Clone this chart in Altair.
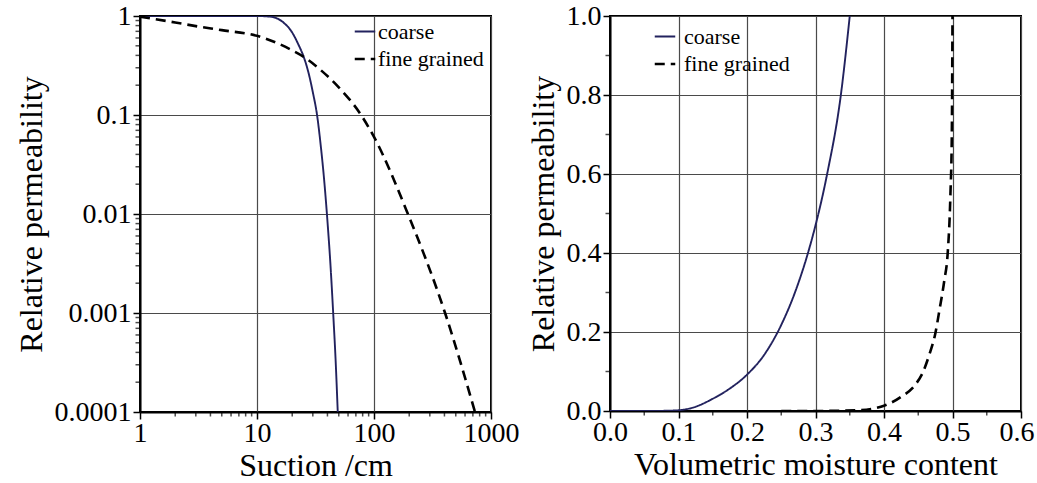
import altair as alt
import pandas as pd

series = ["coarse", "fine grained"]

# Left panel: relative permeability vs suction (log-log)
coarse_suction = [1, 10, 13, 15, 17, 20, 22.5, 25, 27.5, 30, 32.6, 35, 37.5, 40, 42.5, 45, 47, 49]
coarse_krel_s = [1, 1, 0.985, 0.94, 0.85, 0.68, 0.52, 0.39, 0.27, 0.17, 0.1, 0.05, 0.022, 0.0085, 0.003, 0.0009, 0.00033, 0.0001]
fine_suction = [1, 2, 3, 5, 10, 15, 20, 25.7, 35, 50, 77.6, 100, 195, 405, 730]
fine_krel_s = [0.985, 0.86, 0.79, 0.72, 0.63, 0.53, 0.45, 0.38, 0.285, 0.19, 0.1, 0.06, 0.01, 0.001, 0.0001]

# Right panel: relative permeability vs volumetric moisture content
coarse_theta = [0, 0.05, 0.08, 0.1, 0.12, 0.15, 0.175, 0.2, 0.225, 0.25, 0.27, 0.289, 0.3, 0.317, 0.337, 0.35]
coarse_krel_t = [0, 0, 0.0005, 0.002, 0.008, 0.031, 0.057, 0.092, 0.142, 0.218, 0.3, 0.4, 0.47, 0.6, 0.8, 1.0]
fine_theta = [0.25, 0.3, 0.362, 0.401, 0.425, 0.445, 0.457, 0.466, 0.475, 0.481, 0.488, 0.493, 0.497, 0.499, 0.5]
fine_krel_t = [0, 0, 0.002, 0.014, 0.036, 0.065, 0.099, 0.142, 0.197, 0.256, 0.33, 0.4, 0.55, 0.7, 1.0]

# tick values
suction_major = [1, 10, 100, 1000]
suction_minor = [m * 10 ** e for e in range(0, 3) for m in range(2, 10)]
perm_log_major = [0.0001, 0.001, 0.01, 0.1, 1]
perm_log_minor = [m * 10.0 ** e for e in range(-4, 0) for m in range(2, 10)]
theta_major = [0.0, 0.1, 0.2, 0.3, 0.4, 0.5, 0.6]
theta_minor = [0.05, 0.15, 0.25, 0.35, 0.45, 0.55]
perm_lin_major = [0.0, 0.2, 0.4, 0.6, 0.8, 1.0]
perm_lin_minor = [0.1, 0.3, 0.5, 0.7, 0.9]

left_df = pd.DataFrame(
    {"x": coarse_suction + fine_suction,
     "y": coarse_krel_s + fine_krel_s,
     "series": ["coarse"] * len(coarse_suction) + ["fine grained"] * len(fine_suction)}
)
right_df = pd.DataFrame(
    {"x": coarse_theta + fine_theta,
     "y": coarse_krel_t + fine_krel_t,
     "series": ["coarse"] * len(coarse_theta) + ["fine grained"] * len(fine_theta)}
)

FONT = "Liberation Serif"
NAVY = "#22225e"
GRID = "#4a4a4a"


def axis(values, fmt, title, **kw):
    return alt.Axis(
        values=values,
        title=title,
        format=fmt,
        tickSize=7,
        grid=True,
        gridColor=GRID,
        gridWidth=1.2,
        tickColor="black",
        tickWidth=1.5,
        domainColor="black",
        domainWidth=2,
        labelFont=FONT,
        labelFontSize=28,
        labelColor="black",
        labelFlush=False,
        titleFont=FONT,
        titleFontSize=32,
        titleFontWeight="normal",
        titleColor="black",
        labelOverlap=False,
        **kw,
    )


def legend(x, y, offset):
    return alt.Legend(
        title=None,
        orient="none",
        legendX=x,
        legendY=y,
        symbolType="stroke",
        symbolSize=420,
        symbolStrokeWidth=1.6,
        symbolStrokeColor="black",
        labelFont=FONT,
        labelFontSize=22,
        labelColor="black",
        labelOffset=offset,
        rowPadding=4,
        fillColor="transparent",
    )


def panel(df, xscale, yscale, xaxis, yaxis, leg, xminor, yminor, w, h):
    lines = alt.Chart(df).mark_line(interpolate="monotone", clip=True).encode(
        x=alt.X("x:Q", scale=xscale, axis=xaxis),
        y=alt.Y("y:Q", scale=yscale, axis=yaxis),
        color=alt.Color("series:N", scale=alt.Scale(domain=series, range=[NAVY, "black"]), legend=leg),
        strokeDash=alt.StrokeDash("series:N", scale=alt.Scale(domain=series, range=[[1, 0], [10, 6]]), legend=leg),
        strokeWidth=alt.StrokeWidth("series:N", scale=alt.Scale(domain=series, range=[1.9, 2.6]), legend=None),
    )
    ticks_x = alt.Chart(pd.DataFrame({"x": xminor})).mark_tick(
        orient="vertical", size=4, thickness=1.5, color="black"
    ).encode(x=alt.X("x:Q", scale=xscale, axis=xaxis), y=alt.value(h + 2.5))
    ticks_y = alt.Chart(pd.DataFrame({"y": yminor})).mark_tick(
        orient="horizontal", size=4, thickness=1.5, color="black"
    ).encode(y=alt.Y("y:Q", scale=yscale, axis=yaxis), x=alt.value(-2.5))
    return alt.layer(lines, ticks_x, ticks_y).properties(width=w, height=h)


left = panel(
    left_df,
    alt.Scale(type="log", domain=[1, 1000], nice=False),
    alt.Scale(type="log", domain=[0.0001, 1], nice=False),
    axis(suction_major, "d", "Suction /cm", titlePadding=3, labelPadding=0),
    axis(perm_log_major, "~g", "Relative permeability", titlePadding=6, labelPadding=2),
    legend(213, 4, 1),
    suction_minor, perm_log_minor,
    351, 396,
)

right = panel(
    right_df,
    alt.Scale(domain=[0, 0.6], nice=False),
    alt.Scale(domain=[0, 1], nice=False),
    axis(theta_major, ".1f", "Volumetric moisture content",
         titlePadding=3, labelPadding=0,
         labelAlign={"condition": {"test": "datum.value > 0.59", "value": "right"}, "value": "center"},
         labelOffset={"condition": {"test": "datum.value > 0.59", "value": 13}, "value": 0}),
    axis(perm_lin_major, ".1f", "Relative permeability", titlePadding=6, labelPadding=2),
    legend(43, 9, 7),
    theta_minor, perm_lin_minor,
    411, 395,
)

chart = alt.hconcat(left, right, spacing=119, bounds="flush").resolve_scale(
    color="independent", strokeDash="independent", strokeWidth="independent"
).properties(
    padding={"left": 14, "top": 1, "right": 0, "bottom": 0},
    background="white",
).configure_view(stroke="black", strokeWidth=2)

chart.save("out.html", embed_options={"renderer": "svg", "actions": False})
